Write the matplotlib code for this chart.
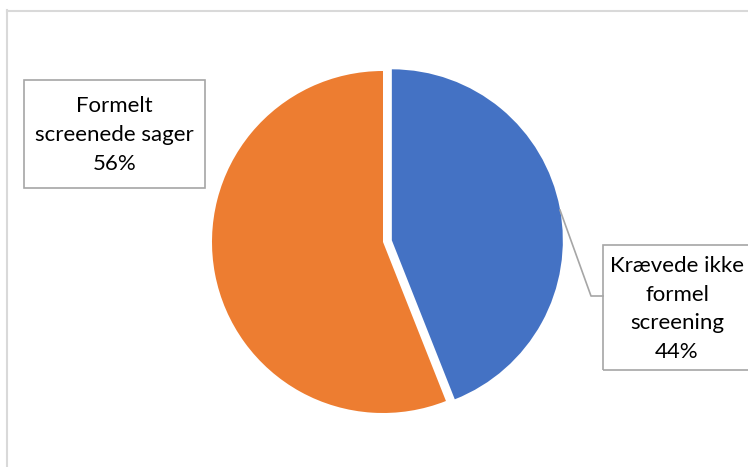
import matplotlib
matplotlib.use("Agg")
import matplotlib.pyplot as plt

categories = ["Krævede ikke\nformel\nscreening", "Formelt\nscreenede sager"]
values = [44, 56]
colors = ["#4472C4", "#ED7D31"]

W, H = 748, 467
fig = plt.figure(figsize=(W / 100, H / 100), dpi=100)
ax = fig.add_axes([0, 0, 1, 1])
ax.set_xlim(0, W)
ax.set_ylim(0, H)
ax.axis("off")

def Y(py):
    return H - py

cx, cy, r = 383, Y(242), 171
wedges, _ = ax.pie(values, colors=colors, startangle=90, counterclock=False,
                   center=(cx, cy), radius=r, explode=[9, 0],
                   wedgeprops=dict(linewidth=0))
ax.set_xlim(0, W)
ax.set_ylim(0, H)
ax.set_aspect("equal")

# chart border
ax.plot([7.5, 7.5], [Y(10), Y(470)], color="#D9D9D9", lw=1.5, clip_on=False)
ax.plot([7.5, 760], [Y(10.5), Y(10.5)], color="#D9D9D9", lw=1.5, clip_on=False)

fs = 16
fam = ["Lato", "DejaVu Sans"]
ls = 1.55
# orange label
ax.add_patch(plt.Rectangle((24, Y(188)), 181, 108, fill=False, ec="#A6A6A6", lw=1.2))
lab0 = f"{categories[1]}\n{values[1]}%"
ax.text(114.5, Y(135), lab0, ha="center", va="center", fontsize=fs, family=fam,
        linespacing=ls, color="black")
# blue label
ax.add_patch(plt.Rectangle((603, Y(370)), 160, 125, fill=False, ec="#A6A6A6", lw=1.2, clip_on=False))
lab1 = f"{categories[0]}\n{values[0]}%"
ax.text(677, Y(309), lab1, ha="center", va="center", fontsize=fs, family=fam,
        linespacing=ls, color="black")
ax.plot([560, 591, 603], [Y(210), Y(296), Y(296)], color="#A6A6A6", lw=1.2)

fig.savefig("out.png", dpi=100)
